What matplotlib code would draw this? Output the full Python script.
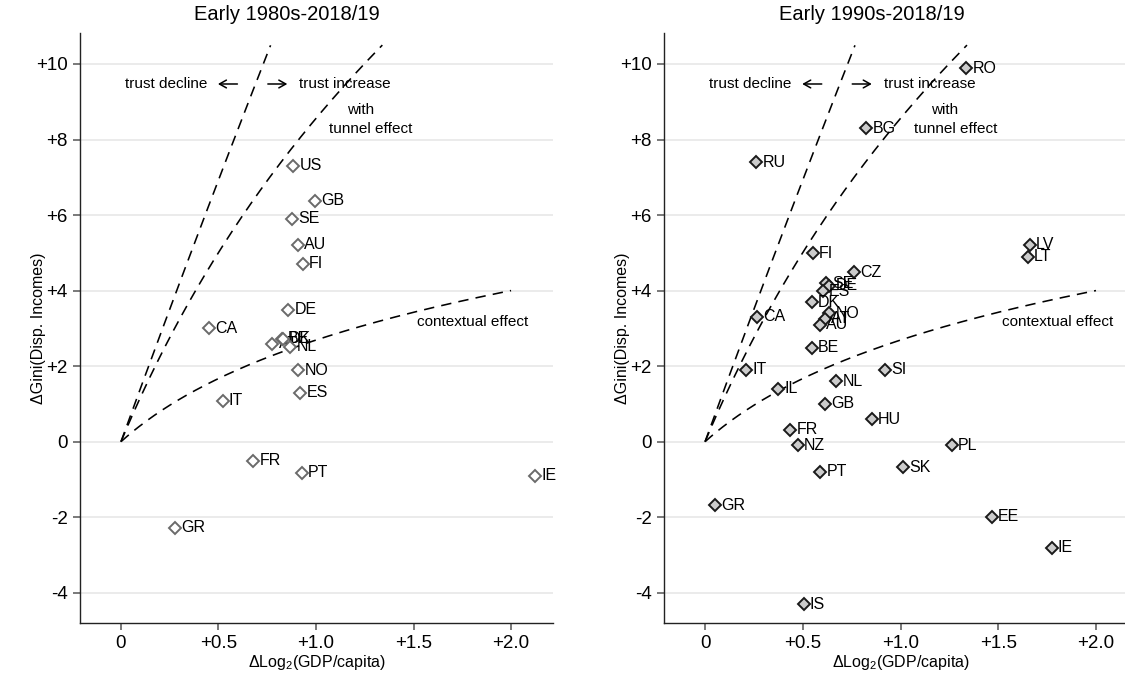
import matplotlib
matplotlib.use("Agg")
import matplotlib.pyplot as plt
import numpy as np

plt.rcParams["font.family"] = ["Liberation Sans", "DejaVu Sans"]
plt.rcParams["mathtext.fontset"] = "custom"
plt.rcParams["mathtext.rm"] = "Liberation Sans"

# Early 1980s - 2018/19
c80 = ["US", "GB", "SE", "AU", "FI", "DE", "CA", "AT", "BE", "DK", "NL", "NO", "ES", "IT",
       "FR", "PT", "IE", "GR"]
x80 = [0.884, 0.995, 0.878, 0.906, 0.933, 0.858, 0.451, 0.776, 0.824, 0.830, 0.867, 0.909,
       0.918, 0.521, 0.677, 0.928, 2.123, 0.277]
y80 = [7.30, 6.38, 5.90, 5.22, 4.71, 3.49, 3.00, 2.59, 2.72, 2.72, 2.51, 1.89,
       1.30, 1.09, -0.50, -0.82, -0.90, -2.28]

# Early 1990s - 2018/19
c90 = ["RO", "BG", "RU", "FI", "CA", "LV", "LT", "CZ", "SE", "DE", "ES", "DK", "NO", "AT",
       "AU", "BE", "IT", "IL", "NL", "SI", "GB", "HU", "FR", "NZ", "PL", "PT", "SK", "GR",
       "IS", "EE", "IE"]
x90 = [1.337, 0.824, 0.263, 0.550, 0.268, 1.662, 1.650, 0.764, 0.619, 0.636, 0.602, 0.547,
       0.636, 0.614, 0.588, 0.547, 0.212, 0.374, 0.670, 0.923, 0.614, 0.853, 0.436, 0.473,
       1.262, 0.590, 1.012, 0.050, 0.504, 1.468, 1.773]
y90 = [9.89, 8.30, 7.40, 4.99, 3.31, 5.21, 4.89, 4.48, 4.20, 4.13, 3.98, 3.69,
       3.40, 3.25, 3.10, 2.49, 1.90, 1.40, 1.60, 1.90, 1.00, 0.60, 0.32, -0.10,
       -0.10, -0.80, -0.68, -1.68, -4.31, -1.99, -2.81]

yticks = [-4, -2, 0, 2, 4, 6, 8, 10]
ytick_labels = ["-4", "-2", "0", "+2", "+4", "+6", "+8", "+10"]
xticks = [0, 0.5, 1.0, 1.5, 2.0]
xtick_labels = ["0", "+0.5", "+1.0", "+1.5", "+2.0"]


def curve(a, b, xmax):
    x = np.linspace(0, xmax, 200)
    return x, a * np.log(1 + b * x)


fig = plt.figure(figsize=(11.25, 6.75), dpi=100)
ax1 = fig.add_axes([80 / 1125, 52 / 675, 473 / 1125, 590 / 675])
ax2 = fig.add_axes([664 / 1125, 52 / 675, 474 / 1125, 590 / 675])

panels = [
    (ax1, "Early 1980s-2018/19", c80, x80, y80, "white", "#6a6a6a"),
    (ax2, "Early 1990s-2018/19", c90, x90, y90, "#cccccc", "#1a1a1a"),
]

arrow = dict(arrowstyle="->,head_length=0.5,head_width=0.28", lw=1.1, color="black",
             shrinkA=0, shrinkB=0)

for ax, title, names, xs, ys, face, edge in panels:
    ax.set_xlim(-0.21, 2.215)
    ax.set_ylim(-4.8, 10.82)
    ax.set_yticks(yticks)
    ax.set_yticklabels(ytick_labels, fontsize=13.5)
    ax.set_xticks(xticks)
    ax.set_xticklabels(xtick_labels, fontsize=13.5)
    ax.grid(axis="y", color="#e6e6e6", lw=1.1)
    ax.set_axisbelow(True)
    for s in ["top", "right"]:
        ax.spines[s].set_visible(False)
    for s in ["left", "bottom"]:
        ax.spines[s].set_color("#222222")
        ax.spines[s].set_linewidth(1.0)
    ax.tick_params(length=5, width=1.1, color="#555555", pad=4)
    ax.set_title(title, fontsize=14.5, pad=9, x=0.438)
    ax.set_xlabel(r"ΔLog$_\mathrm{2}$(GDP/capita)", fontsize=11.5, labelpad=0)
    ax.set_ylabel("ΔGini(Disp. Incomes)", fontsize=11.5)
    ax.yaxis.set_label_coords(-0.071, 0.5)

    # theoretical boundaries
    for a, b, xmax in [(142.0, 0.1, 0.767), (12.35, 1.0, 1.34), (2.66, 1.75, 2.0)]:
        cx, cy = curve(a, b, xmax)
        ax.plot(cx, cy, color="black", lw=1.15, dashes=(6.5, 4.5), zorder=2)

    ax.text(0.233, 9.47, "trust decline", ha="center", va="center", fontsize=11)
    ax.annotate("", xy=(0.497, 9.47), xytext=(0.597, 9.47), arrowprops=arrow)
    ax.annotate("", xy=(0.853, 9.47), xytext=(0.753, 9.47), arrowprops=arrow)
    ax.text(0.913, 9.47, "trust increase", ha="left", va="center", fontsize=11)
    ax.text(1.226, 8.78, "with", ha="center", va="center", fontsize=11)
    ax.text(1.282, 8.27, "tunnel effect", ha="center", va="center", fontsize=11)
    ax.text(1.805, 3.17, "contextual effect", ha="center", va="center", fontsize=11)

    for n, xv, yv in zip(names, xs, ys):
        ax.plot(xv, yv, marker="D", ms=6.5, mfc=face, mec=edge, mew=1.4,
                ls="none", zorder=3)
        ax.annotate(n, (xv, yv), xytext=(4.5, 0), textcoords="offset points",
                    ha="left", va="center", fontsize=11.5, zorder=3)

fig.savefig("out.png", dpi=100)
